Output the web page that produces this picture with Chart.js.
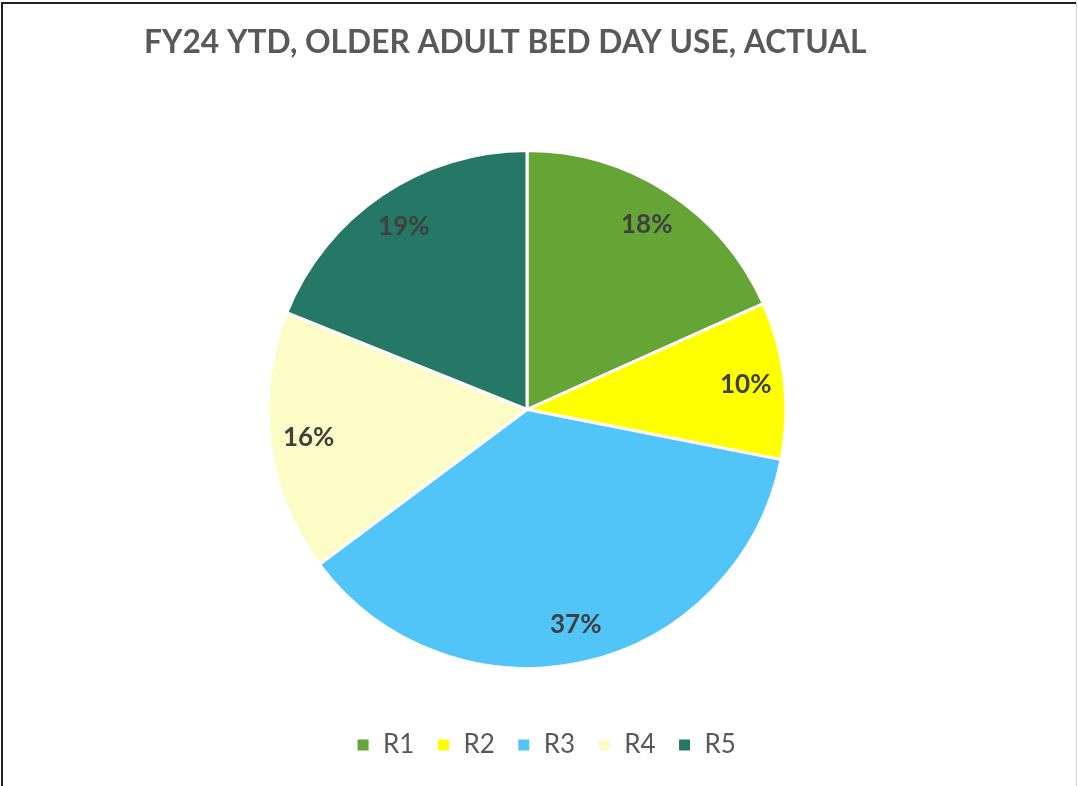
<!DOCTYPE html>
<html lang="en">
<head>
<meta charset="UTF-8">
<title>FY24 YTD, Older Adult Bed Day Use</title>
<script src="https://cdn.jsdelivr.net/npm/chart.js"></script>
<style>
  html, body { margin: 0; padding: 0; background: #fff; }
  .chart-container { position: relative; width: 1078px; height: 786px; }
</style>
</head>
<body>
<div class="chart-container">
  <canvas id="myChart"></canvas>
</div>
<script>
// data (share of bed days, %)
const chartTitle = 'FY24 YTD, OLDER ADULT BED DAY USE, ACTUAL';
const regions = ['R1', 'R2', 'R3', 'R4', 'R5'];
const bedDayShare = [18.3, 9.8, 36.7, 16.3, 18.9];
const regionColors = ['#64A536', '#FFFF00', '#51C4F8', '#FCFCC6', '#267866'];

const fontFamily = 'Lato, "Open Sans", sans-serif';
const textGray = '#595959';

// frame lines like the pasted Excel chart
const framePlugin = {
  id: 'frame',
  beforeDraw(chart) {
    const c = chart.ctx;
    c.save();
    c.fillStyle = '#fff';
    c.fillRect(0, 0, chart.width, chart.height);
    c.fillStyle = '#222';
    c.fillRect(1, 2, chart.width - 3, 2);
    c.fillRect(1, 2, 2, chart.height - 2);
    c.fillStyle = '#d4d4d4';
    c.fillRect(chart.width - 2, 2, 1, chart.height - 2);
    c.restore();
  }
};

// title sits left of centre in the reference, so draw it ourselves
const titlePlugin = {
  id: 'leftTitle',
  afterDraw(chart) {
    const c = chart.ctx;
    c.save();
    c.font = 'bold 100px ' + fontFamily;
    const size = 100 * 722 / c.measureText(chartTitle).width;
    c.font = 'bold ' + size.toFixed(1) + 'px ' + fontFamily;
    c.fillStyle = textGray;
    c.textBaseline = 'alphabetic';
    c.fillText(chartTitle, 144, 53);
    c.restore();
  }
};

// percentage labels inside the slices
const pctPlugin = {
  id: 'pctLabels',
  afterDatasetsDraw(chart) {
    const c = chart.ctx;
    const meta = chart.getDatasetMeta(0);
    const data = chart.data.datasets[0].data;
    const total = data.reduce((a, b) => a + b, 0);
    c.save();
    c.font = 'bold 26px ' + fontFamily;
    c.fillStyle = '#404040';
    c.textAlign = 'center';
    c.textBaseline = 'middle';
    meta.data.forEach((arc, i) => {
      const p = arc.getProps(['x', 'y', 'startAngle', 'endAngle', 'outerRadius'], true);
      const mid = (p.startAngle + p.endAngle) / 2;
      const r = p.outerRadius * 0.85;
      c.fillText(Math.round(data[i] / total * 100) + '%', p.x + Math.cos(mid) * r, p.y + Math.sin(mid) * r);
    });
    c.restore();
  }
};

// nudge legend to the right, it is not centred under the pie in the reference
const legendShift = {
  id: 'legendShift',
  afterLayout(chart) {
    chart.legend.left += 19;
    chart.legend.right += 19;
  }
};

const ctx = document.getElementById('myChart').getContext('2d');
const chart = new Chart(ctx, {
  type: 'pie',
  data: {
    labels: regions,
    datasets: [{
      data: bedDayShare,
      backgroundColor: regionColors,
      borderColor: '#ffffff',
      borderWidth: 3,
      radius: 259
    }]
  },
  options: {
    responsive: true,
    maintainAspectRatio: false,
    animation: false,
    layout: { padding: { top: 109, bottom: 18, left: 0, right: 24 } },
    plugins: {
      title: { display: false },
      tooltip: { enabled: false },
      legend: {
        position: 'bottom',
        labels: {
          boxWidth: 14,
          boxHeight: 14,
          padding: 22,
          color: textGray,
          font: { family: fontFamily, size: 26 }
        }
      }
    }
  },
  plugins: [framePlugin, titlePlugin, pctPlugin, legendShift]
});
</script>
</body>
</html>
